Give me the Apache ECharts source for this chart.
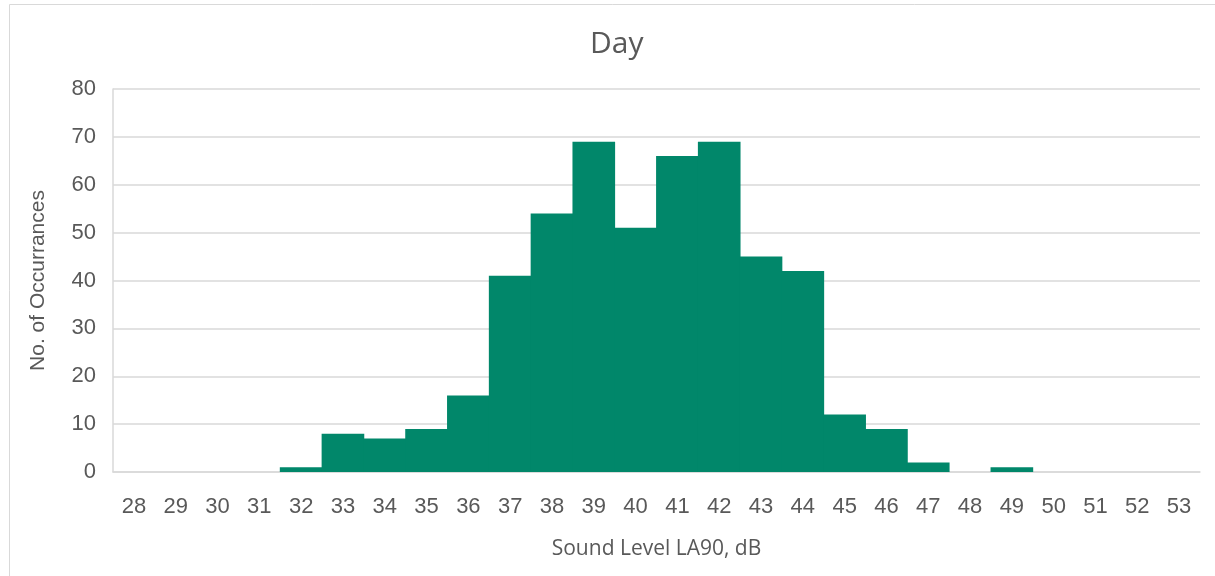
<!DOCTYPE html>
<html>
<head>
<meta charset="utf-8">
<script src="https://cdn.jsdelivr.net/npm/echarts@6/dist/echarts.min.js"></script>
<style>
html,body{margin:0;padding:0;background:#fff;}
#chart{width:1215px;height:576px;}
</style>
</head>
<body>
<div id="chart"></div>
<script>
const categories = ['28','29','30','31','32','33','34','35','36','37','38','39','40','41','42','43','44','45','46','47','48','49','50','51','52','53'];
const occurrences = [0,0,0,0,1,8,7,9,16,41,54,69,51,66,69,45,42,12,9,2,0,1,0,0,0,0];
const yTicks = { min: 0, max: 80, interval: 10 };
const titleText = 'Day';
const xName = 'Sound Level LA90, dB';
const yName = 'No. of Occurrances';

const chart = echarts.init(document.getElementById('chart'), null, {renderer: 'canvas'});
chart.setOption({
  animation: false,
  backgroundColor: '#ffffff',
  graphic: [{
    type: 'rect',
    shape: { x: 9.5, y: 4.5, width: 1215, height: 580 },
    style: { fill: 'none', stroke: '#d9d9d9', lineWidth: 1 },
    silent: true
  }],
  title: {
    text: titleText,
    left: 585,
    top: 24,
    textStyle: { fontFamily: 'Open Sans', fontSize: 30, fontWeight: 'normal', color: '#595959' }
  },
  grid: { left: 113, right: 15, top: 89, bottom: 104, containLabel: false },
  xAxis: {
    type: 'category',
    data: categories,
    name: xName,
    nameLocation: 'middle',
    nameGap: 67,
    nameTextStyle: { fontFamily: 'Open Sans', fontSize: 21, color: '#595959' },
    axisLine: { show: true, lineStyle: { color: '#d9d9d9', width: 1.5 } },
    axisTick: { show: false },
    axisLabel: { margin: 24, fontFamily: 'Liberation Sans', fontSize: 22, color: '#595959', interval: 0 }
  },
  yAxis: {
    type: 'value',
    min: yTicks.min,
    max: yTicks.max,
    interval: yTicks.interval,
    name: yName,
    nameLocation: 'middle',
    nameGap: 64,
    nameTextStyle: { fontFamily: 'Liberation Sans', fontSize: 21, color: '#595959' },
    axisLine: { show: true, lineStyle: { color: '#d9d9d9', width: 1.5 } },
    axisTick: { show: false },
    axisLabel: { margin: 17, fontFamily: 'Liberation Sans', fontSize: 22, color: '#595959' },
    splitLine: { show: true, lineStyle: { color: '#d9d9d9', width: 1.5 } }
  },
  series: [{
    type: 'bar',
    data: occurrences,
    barWidth: '102%',
    itemStyle: { color: '#01876a' }
  }]
});
</script>
</body>
</html>
